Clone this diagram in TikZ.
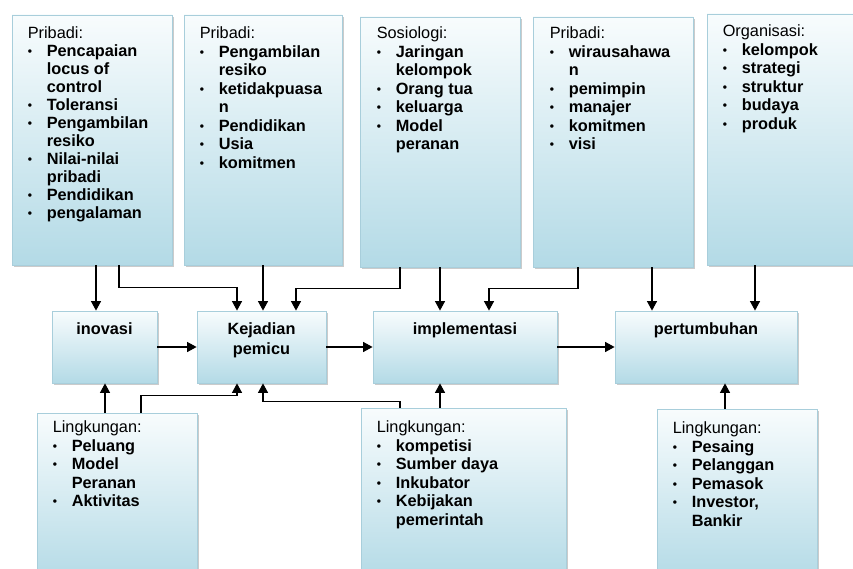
\documentclass[tikz,border=0pt]{standalone}
\usepackage{fontspec}
\setmainfont{Liberation Sans}
\usetikzlibrary{positioning,shadows,arrows.meta}
\definecolor{boxtop}{HTML}{F8FCFD}
\definecolor{boxbot}{HTML}{B3DAE6}
\definecolor{boxedge}{HTML}{A8CEDB}
\newcommand\bul{\makebox[19pt][l]{\raisebox{1pt}{\fontsize{12}{12}\selectfont\textbullet}}}
\newcommand\ind{\hspace*{19pt}}

\begin{document}
\begin{tikzpicture}[x=1pt,y=-1pt,
	box/.style={rectangle,draw=boxedge,line width=0.8pt,top color=boxtop,bottom color=boxbot,
		inner sep=0pt,drop shadow={shadow xshift=2pt,shadow yshift=-2pt,fill=black!40,opacity=0.5}},
	txt/.style={inner sep=0pt,align=left,font=\fontsize{16.3}{18.5}\selectfont\bfseries},
	mid/.style={inner sep=0pt,align=center,font=\fontsize{16.3}{20}\selectfont\bfseries},
	arr/.style={-{Triangle[length=9.5pt,width=10pt]},line width=1.1pt}]
	\useasboundingbox (0,0) rectangle (853,569);
	\fill[white] (0,0) rectangle (853,569);
	\clip (0,0) rectangle (853,569);
	% top row
	\node (p1)[box,minimum width=160,minimum height=250] at (92,140) {};
	\node (p2)[box,minimum width=158,minimum height=250] at (263,140) {};
	\node (sos)[box,minimum width=160,minimum height=250] at (440,142) {};
	\node (p3)[box,minimum width=160,minimum height=250] at (613,142) {};
	\node (org)[box,minimum width=152,minimum height=251] at (783,139.5) {};
	% middle row
	\node (ino)[box,minimum width=105,minimum height=72] at (104.5,347) {};
	\node (kej)[box,minimum width=129,minimum height=72] at (261.5,347) {};
	\node (imp)[box,minimum width=184,minimum height=72] at (465,347) {};
	\node (tum)[box,minimum width=182,minimum height=72] at (706,347) {};
	% bottom row
	\node (l1)[box,minimum width=160,minimum height=170] at (117,498) {};
	\node (l2)[box,minimum width=205,minimum height=172] at (463.5,494) {};
	\node (l3)[box,minimum width=160,minimum height=172] at (737,495) {};
	% texts
	\node (p1t)[txt,font=\fontsize{16.3}{18}\selectfont\bfseries,below right=12pt and 16pt of p1.north west]
		{{\mdseries Pribadi:}\\\bul Pencapaian\\\ind locus of\\\ind control\\\bul Toleransi\\
		\bul Pengambilan\\\ind resiko\\\bul Nilai-nilai\\\ind pribadi\\\bul Pendidikan\\\bul pengalaman};
	\node (p2t)[txt,below right=12pt and 16pt of p2.north west]
		{{\mdseries Pribadi:}\\\bul Pengambilan\\\ind resiko\\\bul ketidakpuasa\\\ind n\\
		\bul Pendidikan\\\bul Usia\\\bul komitmen};
	\node (sost)[txt,below right=10pt and 17pt of sos.north west]
		{{\mdseries Sosiologi:}\\\bul Jaringan\\\ind kelompok\\\bul Orang tua\\\bul keluarga\\
		\bul Model\\\ind peranan};
	\node (p3t)[txt,below right=10pt and 17pt of p3.north west]
		{{\mdseries Pribadi:}\\\bul wirausahawa\\\ind n\\\bul pemimpin\\\bul manajer\\
		\bul komitmen\\\bul visi};
	\node (orgt)[txt,below right=11pt and 16pt of org.north west]
		{{\mdseries Organisasi:}\\\bul kelompok\\\bul strategi\\\bul struktur\\\bul budaya\\\bul produk};
	\node (inot)[mid,below=12pt of ino.north] {inovasi};
	\node (kejt)[mid,below=12pt of kej.north] {Kejadian\\pemicu};
	\node (impt)[mid,below=12pt of imp.north] {implementasi};
	\node (tumt)[mid,below=12pt of tum.north] {pertumbuhan};
	\node (l1t)[txt,below right=8pt and 16pt of l1.north west]
		{{\mdseries Lingkungan:}\\\bul Peluang\\\bul Model\\\ind Peranan\\\bul Aktivitas};
	\node (l2t)[txt,below right=13pt and 16pt of l2.north west]
		{{\mdseries Lingkungan:}\\\bul kompetisi\\\bul Sumber daya\\\bul Inkubator\\
		\bul Kebijakan\\\ind pemerintah};
	\node (l3t)[txt,below right=13pt and 16pt of l3.north west]
		{{\mdseries Lingkungan:}\\\bul Pesaing\\\bul Pelanggan\\\bul Pemasok\\
		\bul Investor,\\\ind Bankir};
	% arrows from above
	\draw[arr] ([xshift=4pt]p1.south) -- ([xshift=4pt]p1.south |- ino.north);
	\draw[arr] ([xshift=27pt]p1.south) -- ++(0,22) -| ([xshift=-24.5pt]kej.north);
	\draw[arr] (p2.south) -- (p2.south |- kej.north);
	\draw[arr] ([xshift=-40pt]sos.south) -- ++(0,21) -| ([xshift=34.5pt]kej.north);
	\draw[arr] (sos.south) -- (sos.south |- imp.north);
	\draw[arr] ([xshift=-35pt]p3.south) -- ++(0,21) -| ([xshift=24pt]imp.north);
	\draw[arr] ([xshift=39pt]p3.south) -- ([xshift=39pt]p3.south |- tum.north);
	\draw[arr] ([xshift=-28pt]org.south) -- ([xshift=-28pt]org.south |- tum.north);
	% middle chain
	\draw[arr] (ino.east) -- (kej.west);
	\draw[arr] (kej.east) -- (imp.west);
	\draw[arr] (imp.east) -- (tum.west);
	% arrows from below
	\draw[arr] ([xshift=-12pt]l1.north) -- ([xshift=-12pt]l1.north |- ino.south);
	\draw[arr] ([xshift=24pt]l1.north) -- ++(0,-17) -| ([xshift=-24.5pt]kej.south);
	\draw[arr] ([xshift=-63.5pt]l2.north) -- ++(0,-6) -| ([xshift=1.5pt]kej.south);
	\draw[arr] ([xshift=-23.5pt]l2.north) -- ([xshift=-23.5pt]l2.north |- imp.south);
	\draw[arr] ([xshift=-12pt]l3.north) -- ([xshift=-12pt]l3.north |- tum.south);
\end{tikzpicture}
\end{document}
